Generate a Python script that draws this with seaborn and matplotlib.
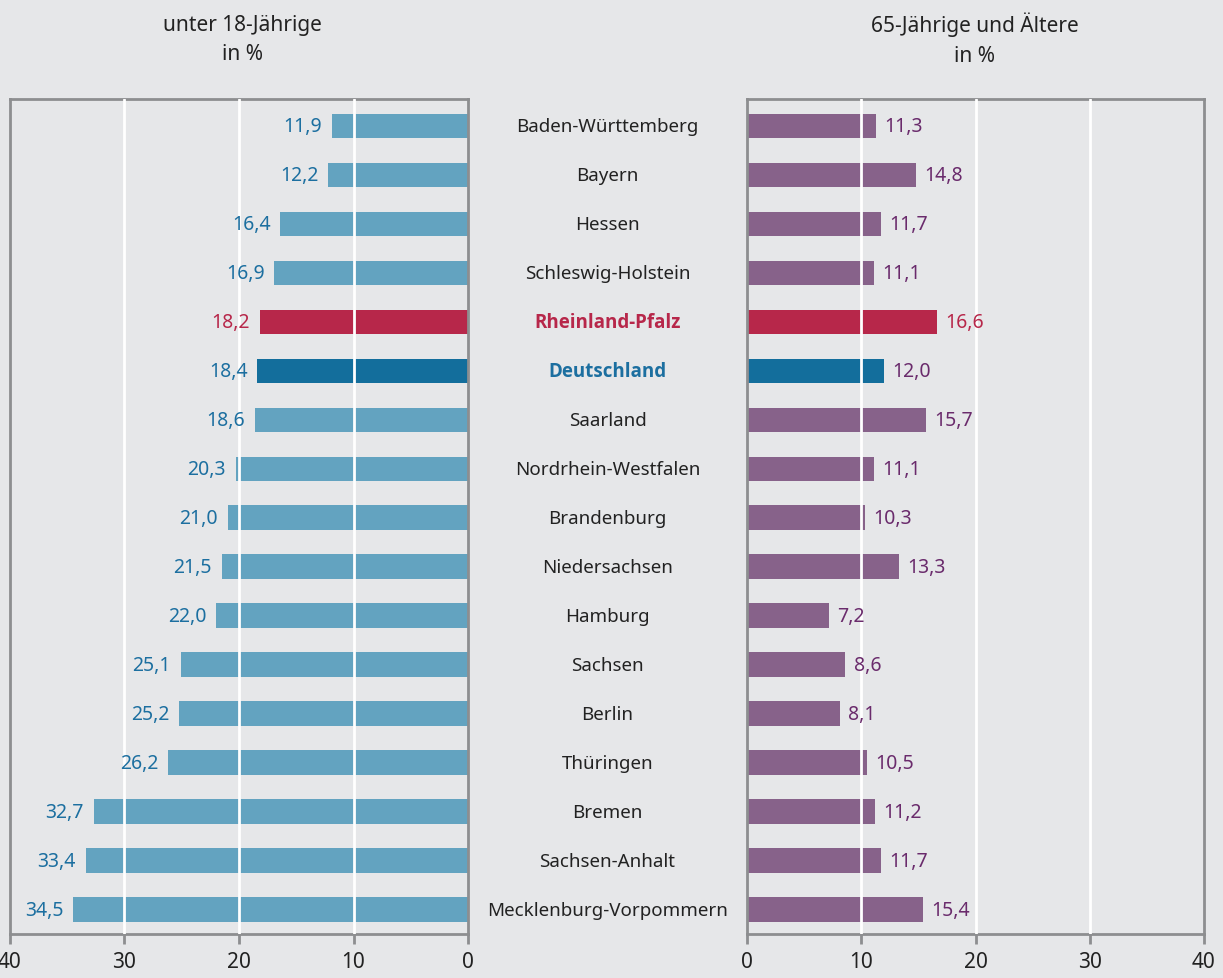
import matplotlib
matplotlib.use("Agg")
import matplotlib.pyplot as plt
import matplotlib.transforms as mtransforms
import seaborn as sns

# data
laender = ['Baden-Württemberg', 'Bayern', 'Hessen', 'Schleswig-Holstein', 'Rheinland-Pfalz',
           'Deutschland', 'Saarland', 'Nordrhein-Westfalen', 'Brandenburg', 'Niedersachsen',
           'Hamburg', 'Sachsen', 'Berlin', 'Thüringen', 'Bremen', 'Sachsen-Anhalt',
           'Mecklenburg-Vorpommern']
unter18 = [11.9, 12.2, 16.4, 16.9, 18.2, 18.4, 18.6, 20.3, 21.0, 21.5, 22.0, 25.1, 25.2, 26.2, 32.7, 33.4, 34.5]
ab65 = [11.3, 14.8, 11.7, 11.1, 16.6, 12.0, 15.7, 11.1, 10.3, 13.3, 7.2, 8.6, 8.1, 10.5, 11.2, 11.7, 15.4]
ticks = [0, 10, 20, 30, 40]

bg = '#e6e7e9'
spine_col = '#8d8e90'
blue_light, blue_dark, red, purple = '#63a3c0', '#136e9c', '#b7274a', '#87628a'
blue_text, purple_text = '#1c6fa0', '#6a2b6c'

sns.set_theme(style='white')
plt.rcParams['font.family'] = ['Noto Sans', 'DejaVu Sans']


def colors_for(base):
    out = []
    for name in laender:
        if name == 'Rheinland-Pfalz':
            out.append(red)
        elif name == 'Deutschland':
            out.append(blue_dark)
        else:
            out.append(base)
    return out


fig = plt.figure(figsize=(12.23, 9.79), dpi=100, facecolor=bg)
ax1 = fig.add_axes([10 / 1223, 1 - 935 / 979, 458 / 1223, 835 / 979])
ax2 = fig.add_axes([747 / 1223, 1 - 935 / 979, 457 / 1223, 835 / 979])

for ax, vals, base, tcol in [(ax1, unter18, blue_light, blue_text), (ax2, ab65, purple, purple_text)]:
    ax.set_facecolor(bg)
    sns.barplot(x=vals, y=laender, hue=laender, palette=colors_for(base), legend=False,
                orient='h', width=0.5, saturation=1, linewidth=0, ax=ax, zorder=2)
    ax.set_xlim(0, 40)
    ax.set_ylim(16.5, -0.55)
    ax.set_xticks(ticks)
    ax.set_xticklabels([str(t) for t in ticks], fontsize=15, color='#222222')
    ax.set_yticks([])
    ax.set_ylabel('')
    for g in [10, 20, 30]:
        ax.axvline(g, color='white', lw=2, zorder=3)
    for s in ax.spines.values():
        s.set_visible(True)
        s.set_color(spine_col)
        s.set_linewidth(2)
    ax.tick_params(axis='x', direction='out', length=7, width=2, color=spine_col, pad=5, bottom=True)
    for i, v in enumerate(vals):
        c = red if laender[i] == 'Rheinland-Pfalz' else tcol
        if ax is ax1:
            ax.annotate(f'{v:.1f}'.replace('.', ','), (v, i), xytext=(-7, 0), textcoords='offset points',
                        ha='right', va='center', fontsize=14, color=c)
        else:
            ax.annotate(f'{v:.1f}'.replace('.', ','), (v, i), xytext=(6, 0), textcoords='offset points',
                        ha='left', va='center', fontsize=14, color=c)

ax1.invert_xaxis()

# names in the middle
trans = mtransforms.blended_transform_factory(fig.transFigure, ax1.transData)
for i, name in enumerate(laender):
    if name == 'Rheinland-Pfalz':
        fig.text(607.5 / 1223, i, name, transform=trans, ha='center', va='center',
                 fontsize=13.5, color=red, fontweight='bold', family=['Open Sans', 'DejaVu Sans'])
    elif name == 'Deutschland':
        fig.text(607.5 / 1223, i, name, transform=trans, ha='center', va='center',
                 fontsize=13.5, color=blue_text, fontweight='bold', family=['Open Sans', 'DejaVu Sans'])
    else:
        fig.text(607.5 / 1223, i, name, transform=trans, ha='center', va='center',
                 fontsize=13.5, color='#222222')

fig.text(242 / 1223, 1 - 40 / 979, 'unter 18-Jährige\nin %', ha='center', va='center',
         fontsize=15, color='#222222', linespacing=1.55)
fig.text(975 / 1223, 1 - 40 / 979, '65-Jährige und Ältere\nin %', ha='center', va='center',
         fontsize=15, color='#222222', linespacing=1.55)

fig.savefig('out.png', dpi=100, facecolor=bg)
